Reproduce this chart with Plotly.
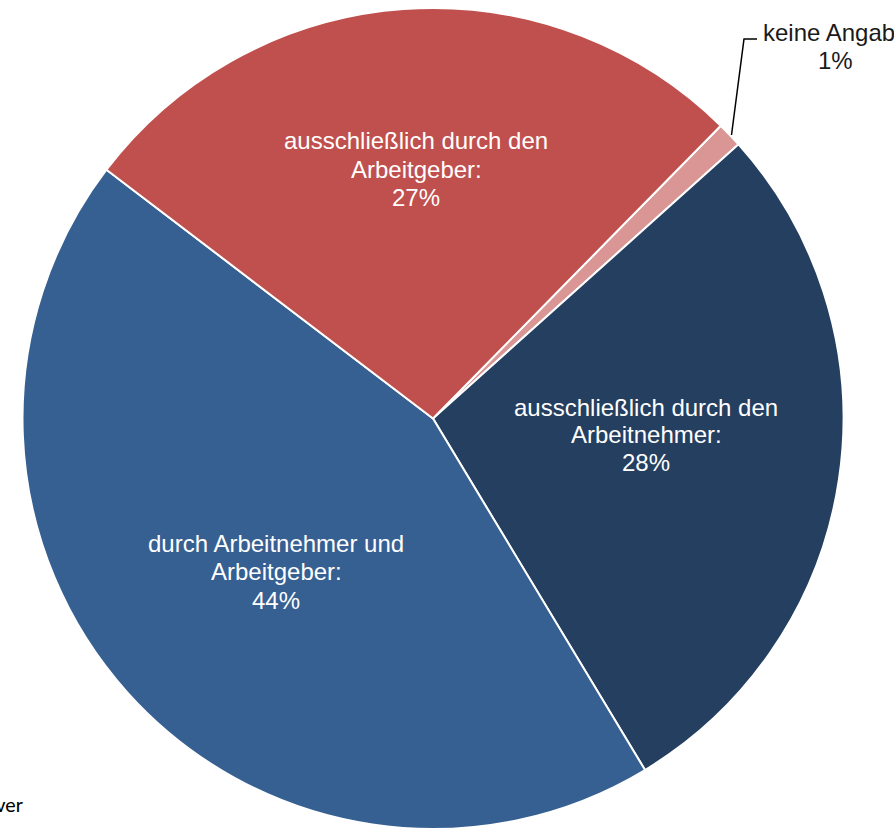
import plotly.graph_objects as go

# Data
labels = ["keine Angabe", "ausschließlich durch den Arbeitnehmer", "durch Arbeitnehmer und Arbeitgeber", "ausschließlich durch den Arbeitgeber"]
label_lines = [["keine Angabe"], ["ausschließlich durch den", "Arbeitnehmer:"], ["durch Arbeitnehmer und", "Arbeitgeber:"], ["ausschließlich durch den", "Arbeitgeber:"]]
values = [1, 28, 44, 27]
colors = ["#D99694", "#243F60", "#366092", "#C0504D"]

W, H = 894, 829
cx, cy, r = 433, 420, 412
bottom = min(cy + r, H)
r_eff = (bottom - (cy - r)) / 2.0

fig = go.Figure(go.Pie(
    labels=labels,
    values=values,
    sort=False,
    direction="clockwise",
    rotation=44.5,
    marker=dict(colors=colors, line=dict(color="white", width=2)),
    textinfo="none",
    hoverinfo="label+percent",
    showlegend=False,
    domain=dict(x=[(cx - r_eff) / W, (cx + r_eff) / W], y=[1 - bottom / H, 1 - (cy - r) / H]),
))

# label block positions (pixels): x center, y of first line, line spacing
label_pos = [(835, 33, 27), (646, 407, 27.5), (276, 543, 28.5), (416, 141, 28)]
label_colors = ["#1A1A1A", "white", "white", "white"]

annotations = []
for i, (lines, v) in enumerate(zip(label_lines, values)):
    all_lines = lines + [f"{v}%"]
    px, py, sp = label_pos[i]
    for k, line in enumerate(all_lines):
        annotations.append(dict(
            x=px / W, y=1 - (py + k * sp) / H, xref="paper", yref="paper",
            text=line, showarrow=False, xanchor="center", yanchor="middle",
            font=dict(family="Liberation Sans, Arial, sans-serif", size=24, color=label_colors[i]),
        ))

annotations.append(dict(
    x=25 / W, y=1 - 805 / H, xref="paper", yref="paper", text="ver", showarrow=False,
    xanchor="right", yanchor="middle",
    font=dict(family="Carlito, Lato, sans-serif", size=21, color="black"),
))

# leader line for small slice
lx = [731.5 / W, 744 / W, 757 / W]
ly = [1 - 135 / H, 1 - 39 / H, 1 - 39 / H]
shapes = [dict(type="path", xref="paper", yref="paper",
               path=f"M {lx[0]} {ly[0]} L {lx[1]} {ly[1]} L {lx[2]} {ly[2]}",
               line=dict(color="black", width=1.5))]

fig.update_layout(
    width=W, height=H,
    margin=dict(l=0, r=0, t=0, b=0),
    paper_bgcolor="white", plot_bgcolor="white",
    annotations=annotations,
    shapes=shapes,
)

fig.write_html("out.html", config={"displayModeBar": False},
               post_script="document.body.style.margin='0';document.body.style.overflow='hidden';")
